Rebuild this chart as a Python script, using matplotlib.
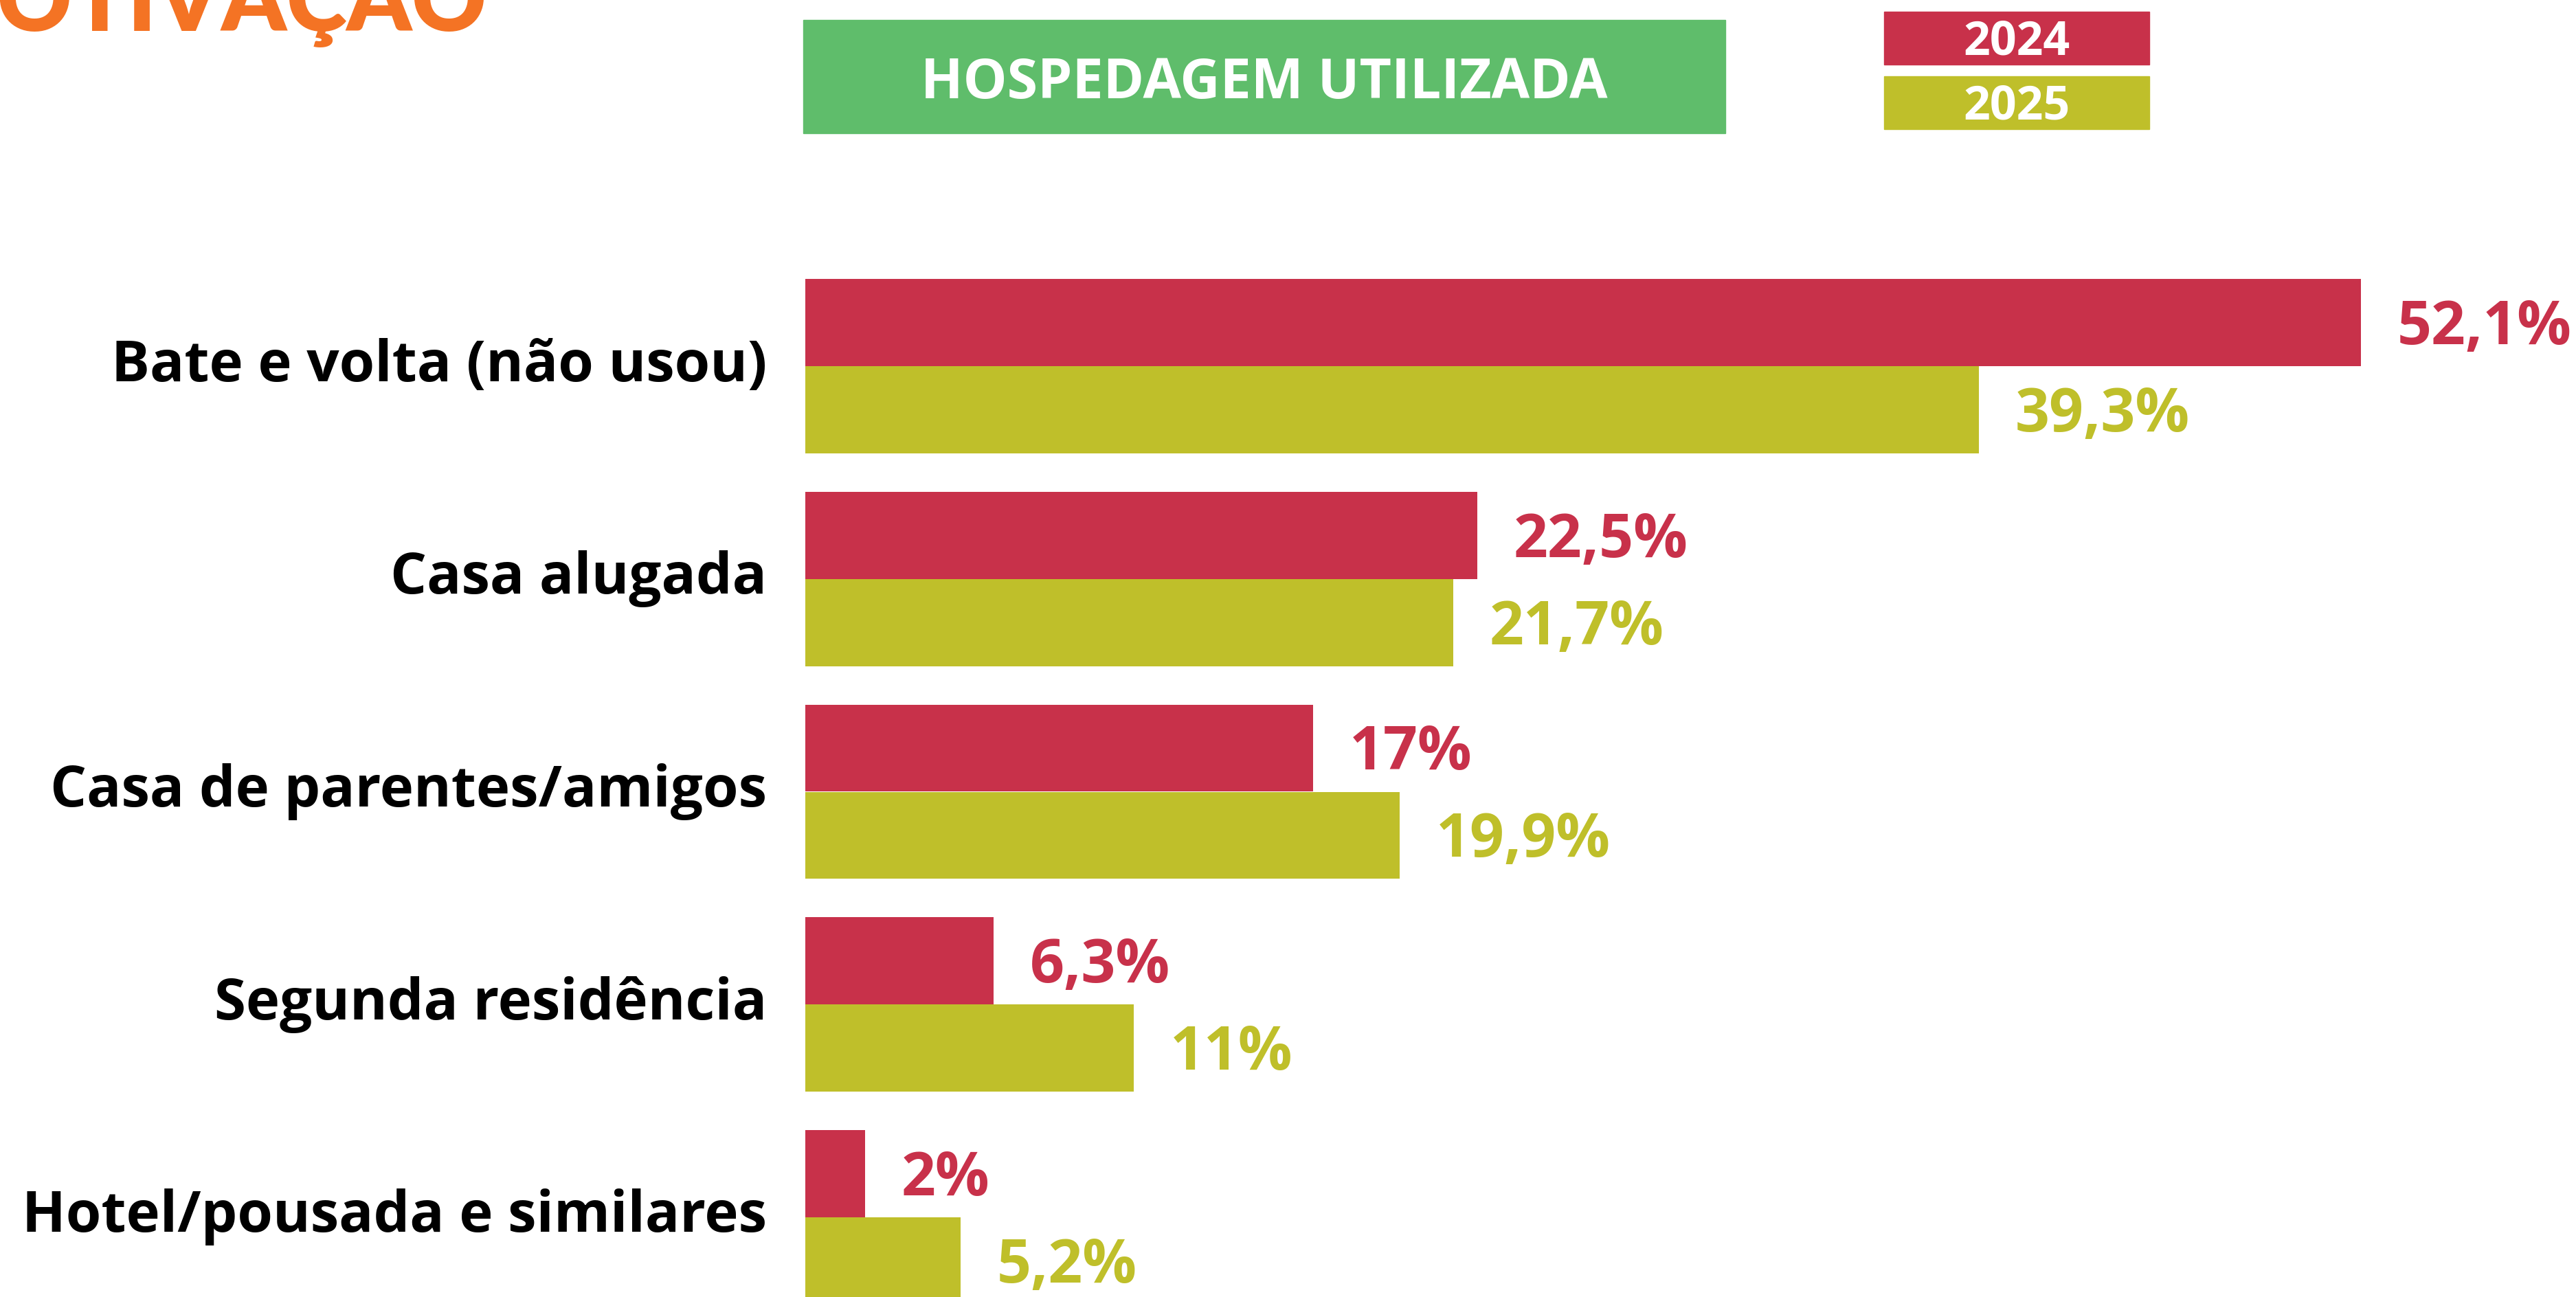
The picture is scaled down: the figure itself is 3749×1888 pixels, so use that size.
import matplotlib
matplotlib.use("Agg")
import matplotlib.pyplot as plt
from matplotlib.patches import Rectangle

plt.rcParams['font.family'] = ['Open Sans', 'DejaVu Sans']

# data:
# -----
categories = ['Bate e volta (não usou)', 'Casa alugada', 'Casa de parentes/amigos',
              'Segunda residência', 'Hotel/pousada e similares']
values_2024 = [52.1, 22.5, 17.0, 6.3, 2.0]
values_2025 = [39.3, 21.7, 19.9, 11.0, 5.2]
labels_2024 = ['52,1%', '22,5%', '17%', '6,3%', '2%']
labels_2025 = ['39,3%', '21,7%', '19,9%', '11%', '5,2%']
years = ['2024', '2025']

red = '#C8314A'
olive = '#BFBF2A'
green = '#5FBD6B'
orange = '#F47324'

W, H = 3749, 1888
fig = plt.figure(figsize=(W/100, H/100), dpi=100)

# bars:
# -----
ax = fig.add_axes([1172/W, 0, 1-1172/W, 1])
ypos = range(len(categories))
bh = 0.41
y_red = [y - bh/2 for y in ypos]
y_ol = [y + bh/2 for y in ypos]
ax.barh(y_red, values_2024, height=bh, color=red)
ax.barh(y_ol, values_2025, height=bh, color=olive)
ax.set_xlim(0, (W-1172)/43.45)
ax.set_ylim((H-533)/309.75, -533/309.75)
ax.axis('off')

for i in range(len(categories)):
    ax.annotate(labels_2024[i], (values_2024[i], y_red[i]), xytext=(38, -6),
                textcoords='offset points', va='center', ha='left',
                fontsize=63, fontweight='bold', color=red)
    ax.annotate(labels_2025[i], (values_2025[i], y_ol[i]), xytext=(38, -6),
                textcoords='offset points', va='center', ha='left',
                fontsize=63, fontweight='bold', color=olive)
    ax.annotate(categories[i], (0, ypos[i]), xytext=(-40, 0),
                textcoords='offset points', va='center', ha='right',
                fontsize=60, fontweight='bold', color='black',
                annotation_clip=False)

# header box:
# -----------
fig.patches.append(Rectangle((1169/W, 1-194/H), 1342/W, 165/H,
                             transform=fig.transFigure, color=green))
fig.text(1840/W, 1-122/H, 'HOSPEDAGEM UTILIZADA', ha='center', va='center',
         fontsize=58, fontweight='bold', color='white')

# year legend boxes:
# ------------------
tops = [17, 111]
for yr, col, top in zip(years, [red, olive], tops):
    fig.patches.append(Rectangle((2742/W, 1-(top+77)/H), 386/W, 77/H,
                                 transform=fig.transFigure, color=col))
    fig.text(2935/W, 1-(top+45)/H, yr, ha='center', va='center',
             fontsize=49, fontweight='bold', color='white')

# cropped section title:
fig.text(708/W, 1-45/H, 'MOTIVAÇÃO', ha='right', va='baseline',
         fontsize=96, fontweight='heavy', color=orange,
         family=['Lato', 'DejaVu Sans'])

fig.savefig('out.png', dpi=100, facecolor='white')
